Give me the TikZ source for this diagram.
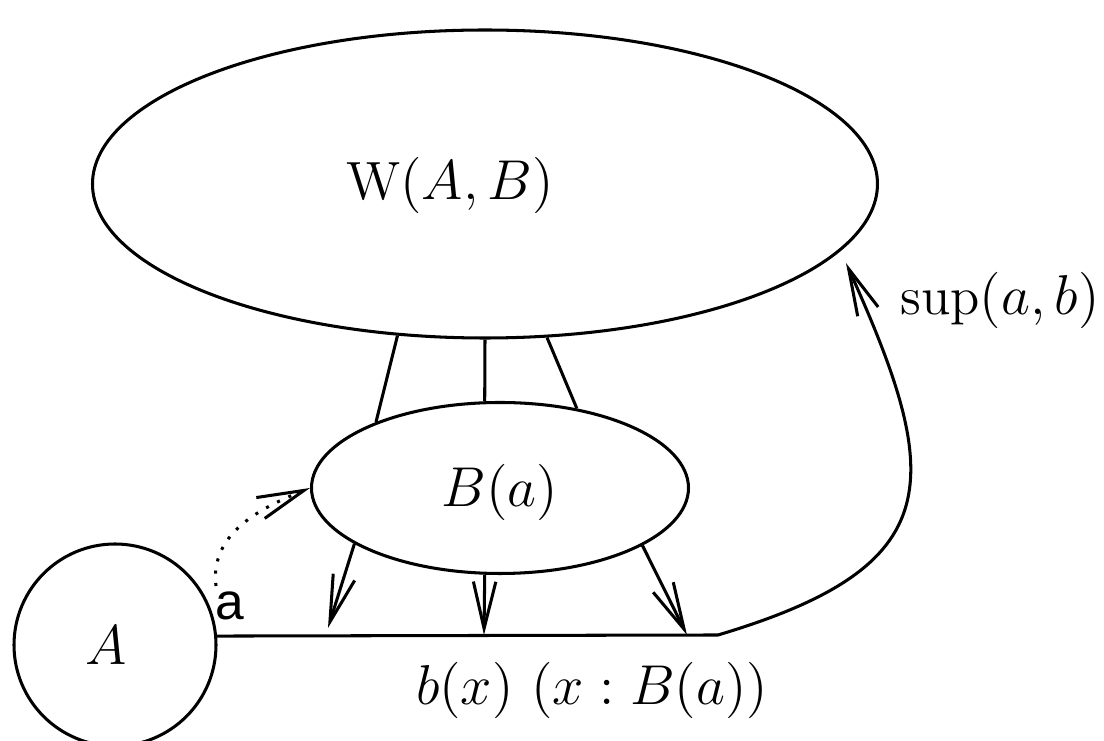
\documentclass[tikz,border=0pt]{standalone}
\usepackage{fontspec}
\newfontfamily\helv{Liberation Sans}
\usetikzlibrary{shapes.geometric,arrows.meta}
\tikzset{
  every node/.style={font=\fontsize{11.5}{14}\selectfont},
  bub/.style={draw, ellipse, inner sep=0pt},
  vtip/.style={-{Straight Barb[length=10pt,width=4.8pt]}},
}
\begin{document}
\begin{tikzpicture}[x=0.0075cm,y=-0.0075cm,line width=0.65pt]
\useasboundingbox (0,0) rectangle (1104,741);
% shapes
\node[bub, minimum width=785*0.0075cm, minimum height=308*0.0075cm] (W) at (485,184) {};
\node (Wl) at (450,185) {$\mathrm{W}(A,B)$};
\node[bub, minimum width=377*0.0075cm, minimum height=171*0.0075cm] (B) at (500,488) {};
\node (Bl) at (500,492) {$B(a)$};
\node[draw, circle, inner sep=0pt, minimum size=202*0.0075cm] (A) at (115,645) {};
\node (Al) at (106,645) {$A$};
% connections W -- B
\draw (W.-120) -- (B.152.7);
\draw (W.-90.5) -- (B.100.6);
\draw (W.-68) -- (B.46);
% base line and sup arrow
\coordinate (lend) at (718,635);
\coordinate (suptip) at (846,263);
\draw[vtip] (A.5.7) -- (lend) .. controls (950,566) and (944,480) .. (suptip);
\node (sup) at (1000,300) {$\sup(a,b)$};
% arrows B -> line
\coordinate (t1) at (328,628);
\coordinate (t2) at (484,635);
\coordinate (t3) at (687,635);
\draw[vtip] (B.-159.9) -- (t1);
\draw[vtip] (B.-100.7) -- (t2);
\draw[vtip] (B.-22.5) -- (t3);
\node (bx) at (592,690) {$b(x)\ (x : B(a))$};
% dotted arrow
\coordinate (ds) at (216,586);
\draw[vtip, dotted] (ds) to[out=97, in=202] (B.180);
\node[font=\helv\fontsize{11}{13}\selectfont] (al) at (230,606) {a};
\end{tikzpicture}
\end{document}
